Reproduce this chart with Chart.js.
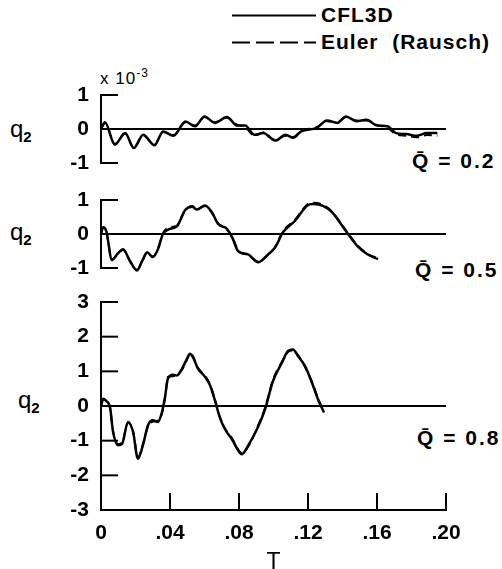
<!DOCTYPE html>
<html>
<head>
<meta charset="utf-8">
<script src="https://cdn.jsdelivr.net/npm/chart.js@4.4.0/dist/chart.umd.min.js"></script>
<style>
  body { margin: 0; background: #fff; }
  #page { position: relative; width: 502px; height: 569px; font-family: "Liberation Sans", Arial, sans-serif; font-weight: bold; color: #000; overflow: hidden; }
  .box { position: absolute; left: 0; width: 502px; }
  .txt { position: absolute; white-space: nowrap; line-height: 1; }
  .q { font-size: 24px; font-weight: normal; }
  .q sub { font-size: 15px; vertical-align: -5px; font-weight: bold; }
  .qbar { font-size: 21px; letter-spacing: 2px; }
</style>
</head>
<body>
<div id="page">
  <svg width="502" height="60" style="position:absolute;left:0;top:0">
    <line x1="232" y1="15.5" x2="316" y2="15.5" stroke="#000" stroke-width="2"/>
    <line x1="232" y1="42.5" x2="316" y2="42.5" stroke="#000" stroke-width="2" stroke-dasharray="18 6"/>
  </svg>
  <div class="txt" style="left:321px;top:4px;font-size:21px;letter-spacing:1px">CFL3D</div>
  <div class="txt" style="left:321px;top:31px;font-size:21px;letter-spacing:1px">Euler&nbsp; (Rausch)</div>
  <div class="txt" style="left:100px;top:67px;font-size:17px;letter-spacing:1px;font-weight:normal">x 10<sup style="font-size:12px">-3</sup></div>

  <div class="txt q" style="left:10px;top:117px">q<sub>2</sub></div>
  <div class="txt q" style="left:10px;top:220px">q<sub>2</sub></div>
  <div class="txt q" style="left:18px;top:388px">q<sub>2</sub></div>

  <div class="txt qbar" style="left:412px;top:150px">Q&#772; = 0.2</div>
  <div class="txt qbar" style="left:415px;top:259px">Q&#772; = 0.5</div>
  <div class="txt qbar" style="left:417px;top:427px">Q&#772; = 0.8</div>

  <div class="box" style="top:80px;height:95px"><canvas id="c1"></canvas></div>
  <div class="box" style="top:185px;height:95px"><canvas id="c2"></canvas></div>
  <div class="box" style="top:290px;height:279px"><canvas id="c3"></canvas></div>
</div>
<script>
// time axis T, tick labels
var xTicks = [0, 0.04, 0.08, 0.12, 0.16, 0.20];

// Q = 0.2 (values x 10^-3)
var tTop = [0, 0.0023, 0.008, 0.014, 0.019, 0.0245, 0.031, 0.036, 0.042, 0.049, 0.0545, 0.060, 0.066, 0.073, 0.079, 0.0835, 0.089, 0.094, 0.101, 0.107, 0.1115, 0.116, 0.125, 0.131, 0.137, 0.142, 0.148, 0.154, 0.160, 0.166, 0.171, 0.177, 0.183, 0.189, 0.195];
var cflTop = [0, 0.2, -0.46, -0.12, -0.56, -0.17, -0.48, -0.07, -0.2, 0.22, 0.08, 0.37, 0.18, 0.35, 0.1, 0.1, -0.17, -0.12, -0.34, -0.17, -0.26, -0.07, 0.03, 0.25, 0.18, 0.37, 0.23, 0.27, 0.1, 0.08, -0.12, -0.15, -0.2, -0.12, -0.12];
var eulerTop = [0, 0.17, -0.44, -0.14, -0.54, -0.19, -0.46, -0.09, -0.18, 0.2, 0.1, 0.35, 0.2, 0.33, 0.12, 0.06, -0.2, -0.1, -0.32, -0.2, -0.24, -0.05, 0.05, 0.23, 0.2, 0.35, 0.25, 0.25, 0.12, 0.04, -0.16, -0.2, -0.24, -0.18, -0.2];

// Q = 0.5
var tMid = [0, 0.0012, 0.003, 0.0064, 0.0093, 0.0128, 0.0168, 0.0209, 0.0238, 0.0267, 0.0301, 0.033, 0.0359, 0.04, 0.0441, 0.0487, 0.0528, 0.0557, 0.0603, 0.0643, 0.0678, 0.073, 0.0765, 0.0794, 0.0852, 0.091, 0.0968, 0.1009, 0.1055, 0.1125, 0.1194, 0.1229, 0.1287, 0.1339, 0.1397, 0.1432, 0.1484, 0.1542, 0.1606];
var cflMid = [0, 0.2, 0.1, -0.77, -0.6, -0.45, -0.8, -1.07, -0.8, -0.54, -0.68, -0.45, 0, 0.15, 0.23, 0.7, 0.8, 0.72, 0.84, 0.64, 0.3, 0.15, -0.15, -0.5, -0.6, -0.83, -0.6, -0.4, 0.05, 0.39, 0.83, 0.88, 0.83, 0.64, 0.25, 0, -0.34, -0.59, -0.74];
var eulerMid = [0, 0.18, 0.08, -0.75, -0.62, -0.47, -0.78, -1.05, -0.82, -0.56, -0.66, -0.43, 0.02, 0.2, 0.25, 0.68, 0.82, 0.74, 0.82, 0.62, 0.32, 0.13, -0.13, -0.48, -0.62, -0.8, -0.62, -0.38, 0.08, 0.42, 0.86, 0.92, 0.86, 0.66, 0.27, 0.02, -0.32, -0.57, -0.72];

// Q = 0.8
var tBot = [0, 0.0013, 0.0029, 0.0052, 0.007, 0.0099, 0.0122, 0.0157, 0.0186, 0.0214, 0.0243, 0.0272, 0.0301, 0.033, 0.0354, 0.0371, 0.0388, 0.0417, 0.0441, 0.047, 0.0499, 0.0516, 0.0533, 0.0562, 0.0603, 0.0632, 0.0661, 0.069, 0.0719, 0.0759, 0.0817, 0.0852, 0.0904, 0.0951, 0.0997, 0.1049, 0.1084, 0.1113, 0.1142, 0.1183, 0.1223, 0.1258, 0.1293];
var cflBot = [0, 0.21, 0.15, -0.03, -0.75, -1.13, -1.09, -0.46, -0.75, -1.52, -1.13, -0.56, -0.41, -0.46, -0.17, 0.26, 0.79, 0.9, 0.88, 1.08, 1.37, 1.51, 1.41, 1.08, 0.84, 0.6, 0.15, -0.35, -0.67, -0.96, -1.39, -1.15, -0.67, -0.1, 0.72, 1.25, 1.59, 1.63, 1.44, 1.15, 0.67, 0.19, -0.19];
var eulerBot = [0, 0.19, 0.13, -0.05, -0.72, -1.1, -1.06, -0.48, -0.72, -1.48, -1.1, -0.6, -0.45, -0.42, -0.2, 0.22, 0.84, 0.86, 0.9, 1.05, 1.34, 1.53, 1.44, 1.1, 0.87, 0.62, 0.18, -0.32, -0.65, -0.93, -1.36, -1.18, -0.64, -0.05, 0.76, 1.28, 1.56, 1.6, 1.47, 1.12, 0.7, 0.22, -0.16];

var FONT = "'Liberation Sans', Arial, sans-serif";
var TICK = 17;

function pts(t, v) {
  return t.map(function (x, i) { return { x: x, y: v[i] }; });
}

// short ticks pointing into the plot, placed by the chart's own scales
var innerTicks = {
  id: 'innerTicks',
  afterDraw: function (chart) {
    var ctx = chart.ctx;
    var xs = chart.scales.x, ys = chart.scales.y;
    var left = chart.chartArea.left;
    ctx.save();
    ctx.strokeStyle = '#000';
    ctx.lineWidth = 2;
    ys.ticks.forEach(function (t) {
      var py = ys.getPixelForValue(t.value);
      ctx.beginPath();
      ctx.moveTo(left - 1, py);
      ctx.lineTo(left + TICK, py);
      ctx.stroke();
    });
    if (xs.options.display) {
      xTicks.forEach(function (v) {
        var px = xs.getPixelForValue(v);
        ctx.beginPath();
        ctx.moveTo(px, xs.top + 1);
        ctx.lineTo(px, xs.top - TICK);
        ctx.stroke();
      });
    }
    ctx.restore();
  }
};

function makeChart(id, t, cfl, euler, yMin, yMax, padTop, padBottom, showX) {
  return new Chart(id, {
    type: 'line',
    data: {
      datasets: [
        { label: 'CFL3D', data: pts(t, cfl), borderColor: '#000', borderWidth: 2.5, pointRadius: 0, fill: false, clip: false, cubicInterpolationMode: 'monotone' },
        { label: 'Euler (Rausch)', data: pts(t, euler), borderColor: '#000', borderWidth: 2, borderDash: [8, 5], pointRadius: 0, fill: false, clip: false, cubicInterpolationMode: 'monotone' }
      ]
    },
    plugins: [innerTicks],
    options: {
      responsive: true,
      maintainAspectRatio: false,
      animation: false,
      layout: { padding: { left: 0, right: 56, top: padTop, bottom: padBottom } },
      plugins: { legend: { display: false }, tooltip: { enabled: false } },
      scales: {
        x: {
          type: 'linear', min: 0, max: 0.2,
          display: showX,
          afterBuildTicks: function (s) { s.ticks = xTicks.map(function (v) { return { value: v }; }); },
          afterFit: function (s) { if (s.options.display) s.height = 59; },
          grid: { display: false, drawTicks: false },
          border: { display: true, color: '#000', width: 2 },
          ticks: {
            color: '#000', padding: 11, maxRotation: 0,
            font: { family: FONT, size: 21, weight: 'bold' },
            callback: function (v) { return v === 0 ? '0' : v.toFixed(2).replace(/^0/, ''); }
          },
          title: { display: true, text: 'T', color: '#000', font: { family: FONT, size: 23, lineHeight: 1 }, padding: { top: 0, bottom: -5 } }
        },
        y: {
          min: yMin, max: yMax,
          afterFit: function (s) { s.width = 101; s.paddingTop = 0; s.paddingBottom = 0; },
          ticks: { stepSize: 1, color: '#000', padding: 12, font: { family: FONT, size: 21, weight: 'bold' } },
          grid: {
            drawOnChartArea: true, drawTicks: false,
            color: function (c) { return c.tick && c.tick.value === 0 ? '#000' : 'rgba(0,0,0,0)'; },
            lineWidth: 2
          },
          border: { display: true, color: '#000', width: 2 }
        }
      }
    }
  });
}

makeChart('c1', tTop, cflTop, eulerTop, -1, 1, 15, 12, false);
makeChart('c2', tMid, cflMid, eulerMid, -1, 1, 15, 12, false);
makeChart('c3', tBot, cflBot, eulerBot, -3, 3, 12, 0, true);
</script>
</body>
</html>
